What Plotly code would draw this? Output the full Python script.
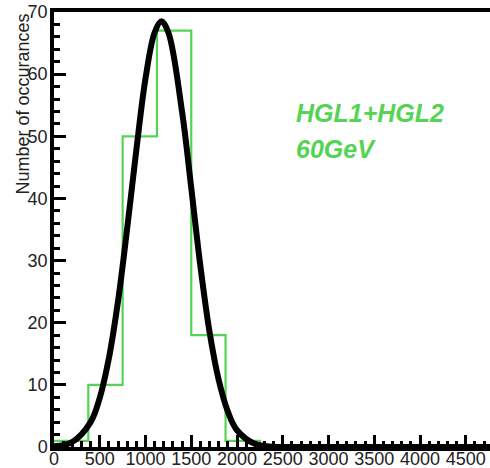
import plotly.graph_objects as go

# Histogram data (bin edges and counts)
bin_edges = [0, 375, 750, 1125, 1500, 1875, 2250, 2625, 3000, 3375, 3750, 4125, 4500, 4875]
counts = [1, 10, 50, 67, 18, 1, 0, 0, 0, 0, 0, 0, 0]

# Fit curve points
fit_x = [0, 200, 400, 500, 600, 700, 800, 900, 1000, 1100, 1175, 1250, 1400, 1500, 1600, 1700,
         1800, 1900, 2000, 2200, 2400, 2600, 3000, 4000, 4800]
fit_y = [0.1, 0.8, 4.0, 7.9, 14.3, 23.5, 35.2, 47.8, 59.3, 66.7, 68.5, 66.7, 53.9, 41.7, 29.1,
         18.5, 10.8, 5.7, 2.7, 0.47, 0.06, 0.0, 0.0, 0.0, 0.0]

xtick_vals = [0, 500, 1000, 1500, 2000, 2500, 3000, 3500, 4000, 4500]
ytick_vals = [0, 10, 20, 30, 40, 50, 60, 70]

label_lines = ["HGL1+HGL2", "60GeV"]
label_y = [53.7, 48.0]

green = "#55d355"

fig = go.Figure()
fig.add_trace(go.Scatter(
    x=bin_edges, y=counts + [counts[-1]], mode="lines", line_shape="hv",
    line=dict(color=green, width=2.2), hoverinfo="skip", showlegend=False))
fig.add_trace(go.Scatter(
    x=fit_x, y=fit_y, mode="lines", line_shape="spline",
    line=dict(color="black", width=6), hoverinfo="skip", showlegend=False))

for txt, yy in zip(label_lines, label_y):
    fig.add_annotation(x=2620, y=yy, xref="x", yref="y", text="<b><i>%s</i></b>" % txt,
                       showarrow=False, xanchor="left", yanchor="middle",
                       font=dict(family="Liberation Sans", size=25, color=green))

fig.add_annotation(x=0, y=1, xref="paper", yref="paper", xshift=-32,
                   text="Number of occurances", textangle=-90, showarrow=False,
                   xanchor="center", yanchor="top",
                   font=dict(family="Liberation Sans", size=18, color="#222"))

fig.update_layout(
    width=490, height=468,
    margin=dict(l=54, r=0, t=12, b=21, autoexpand=False),
    paper_bgcolor="white", plot_bgcolor="white",
    font=dict(family="Liberation Sans", size=18, color="#222"),
    xaxis=dict(range=[0, 4765], tickvals=xtick_vals, ticks="inside", ticklen=12,
               tickwidth=2.5, tickcolor="black", showgrid=False, zeroline=False,
               showline=True, linecolor="black", linewidth=3.5, mirror=True, automargin=False,
               minor=dict(dtick=100, ticks="inside", ticklen=6, tickwidth=2.5, tickcolor="black", showgrid=False),
               tickfont=dict(size=18, color="#222"), ticklabelstandoff=-7),
    yaxis=dict(range=[0, 70], tickvals=ytick_vals, ticks="inside", ticklen=12,
               tickwidth=2.5, tickcolor="black", showgrid=False, zeroline=False,
               showline=True, linecolor="black", linewidth=3.5, automargin=False,
               minor=dict(dtick=2, ticks="inside", ticklen=6, tickwidth=2.5, tickcolor="black", showgrid=False),
               tickfont=dict(size=18, color="#222"), ticklabelstandoff=-1),
)

fig.write_html("out.html")
